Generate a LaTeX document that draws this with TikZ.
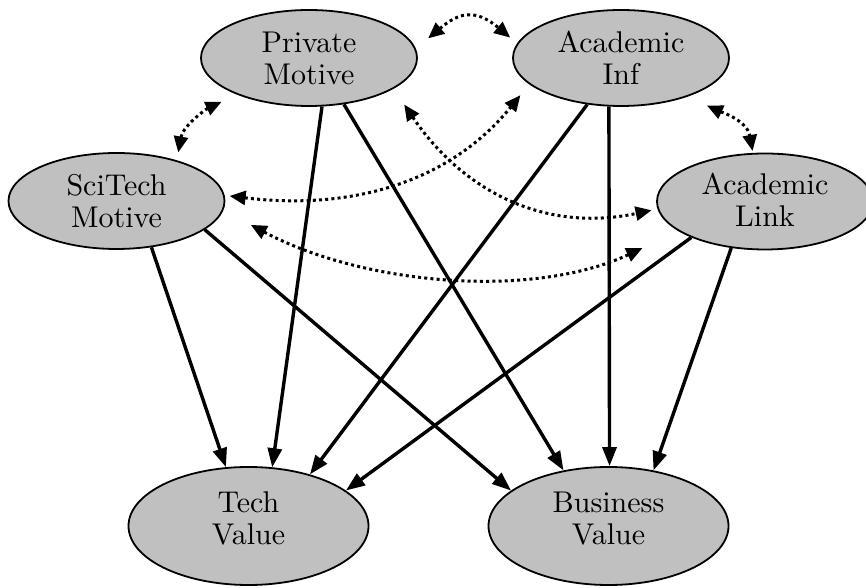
\documentclass[tikz,border=0pt]{standalone}
\usetikzlibrary{arrows.meta,shapes.geometric}
\definecolor{nodegray}{RGB}{192,192,192}
% two-line label set in the 10pt design size, enlarged and shifted vertically
\newcommand{\twoline}[3]{\raisebox{#1}[\height][\depth]{\scalebox{1.5}{%
  \renewcommand{\arraystretch}{0.89}%
  \begin{tabular}{@{}c@{}}#2\\#3\end{tabular}}}}
\tikzset{
  latent/.style={ellipse, draw=black, line width=0.9pt, fill=nodegray,
    inner sep=0pt, font=\fontsize{10}{12}\selectfont},
  upper/.style={latent, minimum width=108pt, minimum height=48pt},
  lower/.style={latent, minimum width=120pt, minimum height=59pt},
  path/.style={line width=1.7pt, -{Triangle[length=9.5pt,width=7pt]}},
  cov/.style={line width=1.5pt, dash pattern=on 1.5pt off 1.6pt,
    {Triangle[length=8pt,width=7pt]}-{Triangle[length=8pt,width=7pt]}}
}
\begin{document}
\begin{tikzpicture}[x=0.5pt,y=0.5pt]
\useasboundingbox (0,0) rectangle (866,588);

% latent variables
\node[upper] (pm) at (309,530)   {\twoline{-2.2pt}{Private}{Motive}};
\node[upper] (ai) at (621,530)   {\twoline{-2.2pt}{Academic}{Inf}};
\node[upper] (st) at (116.5,387) {\twoline{-2.2pt}{SciTech}{Motive}};
\node[upper] (al) at (765,386.5) {\twoline{-1.5pt}{Academic}{Link}};
\node[lower] (tv) at (248.5,62)  {\twoline{2pt}{Tech}{Value}};
\node[lower] (bv) at (608.5,62)  {\twoline{2pt}{Business}{Value}};

% directed paths
\draw[path] (st.-53)  -- (tv.111);
\draw[path] (pm.-75)  -- (tv.68);
\draw[path] (ai.234)  -- (tv.40);
\draw[path] (al.206)  -- (tv.20);
\draw[path] (st.-18)  -- (bv.160);
\draw[path] (pm.-53)  -- (bv.129);
\draw[path] (ai.-104) -- (bv.89);
\draw[path] (al.234)  -- (bv.51);

% covariances
\draw[cov, shorten <=8pt, shorten >=4.5pt]
  (pm.5) to[out=40, in=140, looseness=1.4] (ai.172);
\draw[cov, shorten <=8.5pt, shorten >=4pt]
  (pm.207) to[out=205, in=80] (st.34);
\draw[cov, shorten <=10.5pt, shorten >=1pt]
  (ai.-30) to[out=-25, in=100] (al.104);
\draw[cov, shorten <=2.5pt, shorten >=7pt]
  (st.3.5) to[out=-7, in=231] (ai.196);
\draw[cov, shorten <=9.5pt, shorten >=3pt]
  (pm.-20) to[out=-56, in=192, looseness=1.05] (al.184);
\draw[cov, shorten <=15.5pt, shorten >=20pt]
  (st.-5) to[out=-28, in=205, looseness=0.9] (al.199);
\end{tikzpicture}
\end{document}
